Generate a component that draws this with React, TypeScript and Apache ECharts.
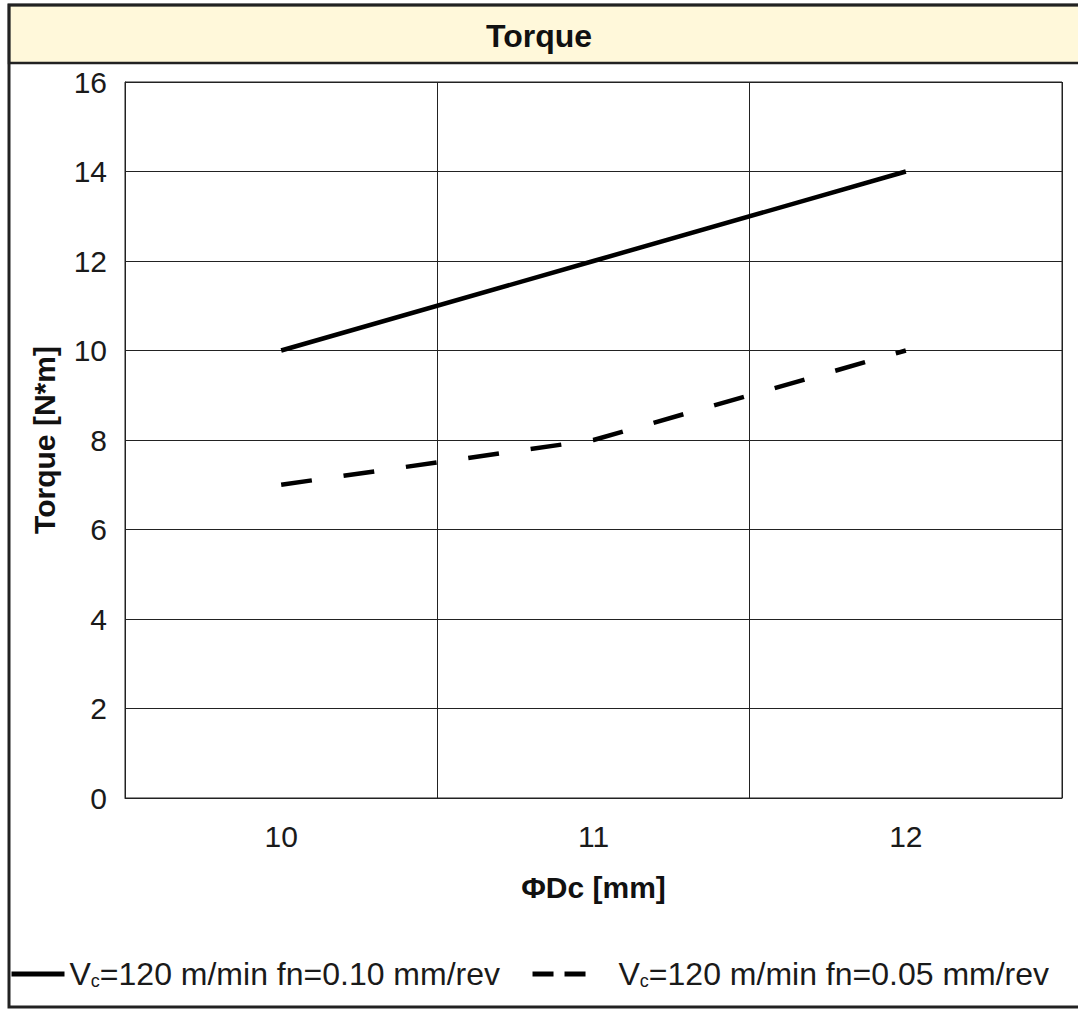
import React, { useEffect, useRef } from "react";
import * as echarts from "echarts";

const categories = ["10", "11", "12"];
const seriesSolid = [10, 12, 14];
const seriesDashed = [7, 8, 10];
const seriesNames = ["Vc=120 m/min fn=0.10 mm/rev", "Vc=120 m/min fn=0.05 mm/rev"];
const yTicks = { min: 0, max: 16, interval: 2 };

const FONT = "'Liberation Sans', Arial, sans-serif";

export default function App() {
  const ref = useRef<HTMLDivElement>(null);
  useEffect(() => {
    document.body.style.margin = "0";
    const chart = echarts.init(ref.current!, undefined, { renderer: "svg" });
    const fmt = (name: string) => {
      const rest = name.slice(2);
      const pre = name === seriesNames[1] ? "{g|}" : "";
      return pre + "{a|V}{s|c}{a|" + rest + "}";
    };
    chart.setOption({
      animation: false,
      backgroundColor: "#ffffff",
      textStyle: { fontFamily: FONT },
      graphic: [
        {
          type: "rect",
          shape: { x: 9, y: 5, width: 1100, height: 58 },
          style: { fill: "#FFF8DA", stroke: "#222", lineWidth: 2.5 },
          z: -1,
        },
        {
          type: "rect",
          shape: { x: 9, y: 5, width: 1100, height: 1002 },
          style: { fill: "none", stroke: "#222", lineWidth: 3 },
          z: 10,
        },
      ],
      title: {
        text: "Torque",
        left: "center",
        top: 15,
        textStyle: { fontFamily: FONT, fontSize: 32, fontWeight: "bold", color: "#111" },
      },
      grid: {
        left: 125,
        top: 82,
        width: 937,
        height: 716,
        show: true,
        borderColor: "#222",
        borderWidth: 1,
        containLabel: false,
      },
      legend: {
        left: 9,
        top: 958,
        padding: 0,
        itemWidth: 53,
        itemHeight: 20,
        itemGap: 30,
        formatter: fmt,
        itemStyle: { opacity: 0 },
        textStyle: {
          fontFamily: FONT,
          color: "#1a1a1a",
          rich: {
            a: { fontSize: 32, fontFamily: FONT, color: "#1a1a1a" },
            s: { fontSize: 18, fontFamily: FONT, color: "#1a1a1a", padding: [14, 0, 0, 0] },
            g: { width: 28 },
          },
        },
        data: [
          { name: seriesNames[0], lineStyle: { width: 5, type: "solid", color: "#000" } },
          { name: seriesNames[1], lineStyle: { width: 5, type: [21, 11], color: "#000" } },
        ],
      },
      xAxis: {
        type: "category",
        data: categories,
        boundaryGap: true,
        name: "ΦDc [mm]",
        nameLocation: "middle",
        nameGap: 74,
        nameTextStyle: { fontFamily: FONT, fontSize: 30, fontWeight: "bold", color: "#111" },
        axisLine: { show: true, lineStyle: { color: "#222", width: 1 } },
        axisTick: { show: false },
        axisLabel: { fontFamily: FONT, fontSize: 30, color: "#1a1a1a", margin: 23 },
        splitLine: { show: true, lineStyle: { color: "#222", width: 1 } },
      },
      yAxis: {
        type: "value",
        min: yTicks.min,
        max: yTicks.max,
        interval: yTicks.interval,
        name: "Torque [N*m]",
        nameLocation: "middle",
        nameGap: 66,
        nameRotate: 90,
        nameTextStyle: { fontFamily: FONT, fontSize: 30, fontWeight: "bold", color: "#111" },
        axisLine: { show: true, lineStyle: { color: "#222", width: 1 } },
        axisTick: { show: false },
        axisLabel: { fontFamily: FONT, fontSize: 30, color: "#1a1a1a", margin: 18 },
        splitLine: { show: true, lineStyle: { color: "#222", width: 1 } },
      },
      series: [
        {
          name: seriesNames[0],
          type: "line",
          data: seriesSolid,
          symbol: "none",
          lineStyle: { color: "#000", width: 4.5, type: "solid" },
          itemStyle: { color: "#000" },
        },
        {
          name: seriesNames[1],
          type: "line",
          data: seriesDashed,
          symbol: "none",
          lineStyle: { color: "#000", width: 4.5, type: [31, 32] },
          itemStyle: { color: "#000" },
        },
      ],
    });
    return () => chart.dispose();
  }, []);
  return <div ref={ref} style={{ width: 1078, height: 1014 }} />;
}
